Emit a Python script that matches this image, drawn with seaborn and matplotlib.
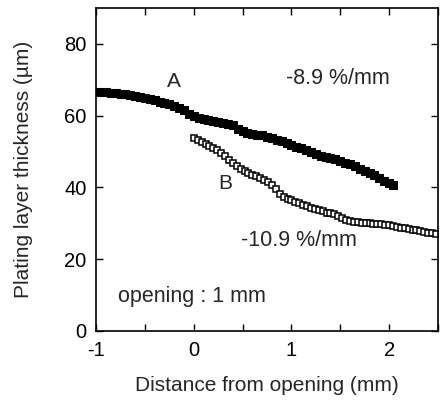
import matplotlib
matplotlib.use('Agg')
import matplotlib.pyplot as plt
import seaborn as sns
import pandas as pd
from matplotlib.ticker import MultipleLocator

# curve A (dense filled squares)
a_x = [-1.00, -0.95, -0.90, -0.85, -0.80, -0.75, -0.70, -0.65, -0.60, -0.55,
       -0.50, -0.45, -0.40, -0.35, -0.30, -0.25, -0.20, -0.15, -0.10, -0.05,
       0.00, 0.05, 0.10, 0.15, 0.20, 0.25, 0.30, 0.35, 0.40, 0.45,
       0.50, 0.55, 0.60, 0.65, 0.70, 0.75, 0.80, 0.85, 0.90, 0.95,
       1.00, 1.05, 1.10, 1.15, 1.20, 1.25, 1.30, 1.35, 1.40, 1.45,
       1.50, 1.55, 1.60, 1.65, 1.70, 1.75, 1.80, 1.85, 1.90, 1.95,
       2.00, 2.04]
a_y = [66.7, 66.6, 66.5, 66.4, 66.3, 66.1, 66.0, 65.8, 65.5, 65.3,
       65.0, 64.7, 64.3, 63.9, 63.6, 63.3, 62.8, 62.2, 61.5, 60.4,
       59.8, 59.3, 59.0, 58.8, 58.6, 58.3, 58.1, 57.7, 57.3, 56.4,
       55.6, 55.2, 54.9, 54.7, 54.5, 54.1, 53.7, 53.3, 52.9, 52.4,
       51.9, 51.4, 50.9, 50.3, 49.9, 49.4, 48.9, 48.6, 48.2, 47.8,
       47.4, 46.9, 46.5, 45.9, 45.2, 44.7, 44.1, 43.4, 42.6, 41.9,
       41.1, 40.6]

# curve B (open squares)
b_x = [0.00, 0.04, 0.08, 0.12, 0.16, 0.20, 0.24, 0.28, 0.32, 0.36,
       0.40, 0.44, 0.48, 0.52, 0.56, 0.60, 0.64, 0.68, 0.72, 0.76,
       0.80, 0.84, 0.88, 0.92, 0.96, 1.00, 1.04, 1.08, 1.12, 1.16,
       1.20, 1.24, 1.28, 1.32, 1.36, 1.40, 1.44, 1.48, 1.52, 1.56,
       1.60, 1.64, 1.68, 1.72, 1.76, 1.80, 1.84, 1.88, 1.92, 1.96,
       2.00, 2.04, 2.08, 2.12, 2.16, 2.20, 2.24, 2.28, 2.32, 2.36,
       2.40, 2.44, 2.48]
b_y = [53.7, 53.3, 52.8, 52.2, 51.6, 51.0, 50.4, 49.6, 48.7, 47.6,
       46.9, 46.1, 45.2, 44.5, 44.0, 43.5, 43.1, 42.7, 42.1, 41.5,
       40.7, 39.6, 38.3, 37.4, 36.8, 36.4, 36.0, 35.6, 35.1, 34.7,
       34.3, 33.9, 33.6, 33.3, 33.0, 32.8, 32.5, 32.1, 31.6, 30.9,
       30.5, 30.4, 30.3, 30.2, 30.1, 30.0, 29.9, 29.8, 29.7, 29.6,
       29.4, 29.2, 29.0, 28.8, 28.6, 28.4, 28.2, 28.0, 27.8, 27.6,
       27.4, 27.2, 27.0]

sns.set_style('ticks')
plt.rcParams['font.family'] = ['Liberation Sans', 'DejaVu Sans']
plt.rcParams['axes.unicode_minus'] = False

fig = plt.figure(figsize=(4.41, 4.05), dpi=100)
ax = fig.add_axes([0.218, 0.183, 0.775, 0.797])

df_a = pd.DataFrame({'x': a_x, 'y': a_y})
df_b = pd.DataFrame({'x': b_x, 'y': b_y})
sns.lineplot(data=df_a, x='x', y='y', ax=ax, color='black', lw=2,
             marker='s', markersize=6, markerfacecolor='black',
             markeredgecolor='black')
sns.lineplot(data=df_b, x='x', y='y', ax=ax, color='black', lw=0.8,
             marker='s', markersize=4.5, markerfacecolor='white',
             markeredgecolor='black', markeredgewidth=1.1)

ax.set_xlim(-1, 2.5)
ax.set_ylim(0, 90)
ax.xaxis.set_major_locator(MultipleLocator(1))
ax.xaxis.set_minor_locator(MultipleLocator(0.5))
ax.yaxis.set_major_locator(MultipleLocator(20))
ax.tick_params(which='both', direction='in', top=True, right=True,
               length=5, width=1, labelsize=14.5, colors='black')
ax.tick_params(axis='x', pad=7)
ax.tick_params(axis='y', pad=7)
for s in ax.spines.values():
    s.set_linewidth(1.2)
    s.set_color('black')

ax.set_xlabel('Distance from opening (mm)', fontsize=15, labelpad=12)
ax.set_ylabel('Plating layer thickness (µm)', fontsize=15, labelpad=22)

ax.text(-0.2, 69.5, 'A', fontsize=15, ha='center', va='center')
ax.text(0.32, 41.2, 'B', fontsize=15, ha='center', va='center')
ax.text(1.48, 70.5, '-8.9 %/mm', fontsize=15.5, ha='center', va='center')
ax.text(1.08, 25.3, '-10.9 %/mm', fontsize=15.5, ha='center', va='center')
ax.text(-0.02, 9.5, 'opening : 1 mm', fontsize=15.5, ha='center', va='center')

fig.savefig('out.png', dpi=100)
